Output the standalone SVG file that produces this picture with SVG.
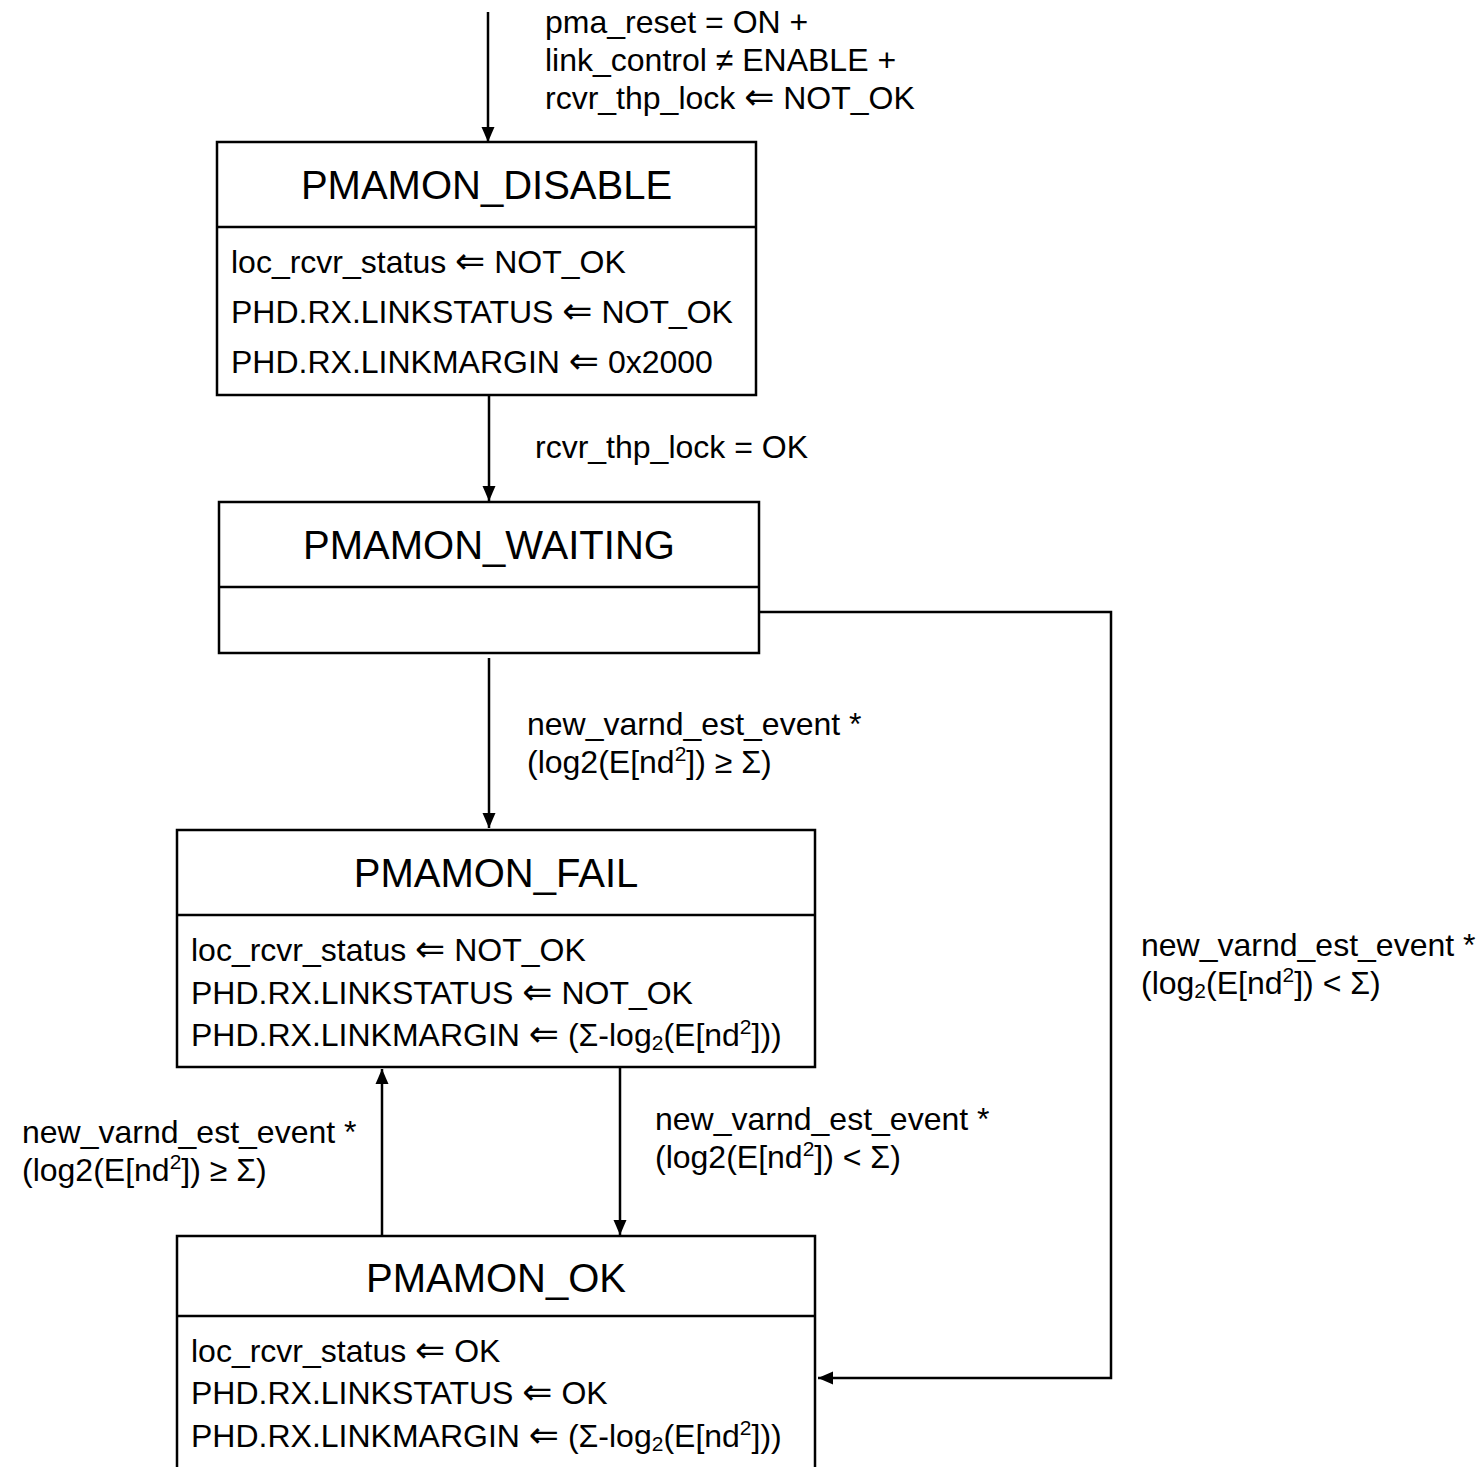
<svg xmlns="http://www.w3.org/2000/svg" width="1482" height="1467" viewBox="0 0 1482 1467">
<style>
text{font-family:"Liberation Sans",Arial,"DejaVu Sans",sans-serif;fill:#000}
.title{font-size:40px;text-anchor:middle}
.body{font-size:32px}
.lbl{font-size:32px}
.box{fill:#fff;stroke:#000;stroke-width:2.5}
.div{stroke:#000;stroke-width:2.5}
.conn{fill:none;stroke:#000;stroke-width:2.5}
.sm{font-size:21px}
.a{font-family:"DejaVu Sans",sans-serif;font-size:36px}
</style>
<defs>
<marker id="arr" markerUnits="userSpaceOnUse" markerWidth="16" markerHeight="16" refX="15" refY="8" orient="auto">
<path d="M0,1.5 L15,8 L0,14.5 z" fill="#000"/>
</marker>
</defs>
<rect width="1482" height="1467" fill="#fff"/>

<g id="connectors">
<line class="conn" x1="488" y1="12" x2="488" y2="142" marker-end="url(#arr)"/>
<line class="conn" x1="489" y1="396" x2="489" y2="501" marker-end="url(#arr)"/>
<line class="conn" x1="489" y1="658" x2="489" y2="828" marker-end="url(#arr)"/>
<line class="conn" x1="620" y1="1068" x2="620" y2="1235" marker-end="url(#arr)"/>
<line class="conn" x1="382" y1="1236" x2="382" y2="1069" marker-end="url(#arr)"/>
<polyline class="conn" points="759,612 1111,612 1111,1378 818,1378" marker-end="url(#arr)"/>
<text class="lbl"><tspan x="545" y="33">pma_reset = ON +</tspan><tspan x="545" y="71">link_control ≠ ENABLE +</tspan><tspan x="545" y="109">rcvr_thp_lock </tspan><tspan class="a">⇐</tspan><tspan> NOT_OK</tspan></text>
<text class="lbl" x="535" y="458">rcvr_thp_lock = OK</text>
<text class="lbl"><tspan x="527" y="735">new_varnd_est_event *</tspan><tspan x="527" y="773">(log2(E[nd</tspan><tspan class="sm" dy="-12">2</tspan><tspan dy="12">]) ≥ Σ)</tspan></text>
<text class="lbl"><tspan x="1141" y="956">new_varnd_est_event *</tspan><tspan x="1141" y="994">(log</tspan><tspan class="sm" dy="4">2</tspan><tspan dy="-4">(E[nd</tspan><tspan class="sm" dy="-12">2</tspan><tspan dy="12">]) &lt; Σ)</tspan></text>
<text class="lbl"><tspan x="655" y="1130">new_varnd_est_event *</tspan><tspan x="655" y="1168">(log2(E[nd</tspan><tspan class="sm" dy="-12">2</tspan><tspan dy="12">]) &lt; Σ)</tspan></text>
<text class="lbl"><tspan x="22" y="1143">new_varnd_est_event *</tspan><tspan x="22" y="1181">(log2(E[nd</tspan><tspan class="sm" dy="-12">2</tspan><tspan dy="12">]) ≥ Σ)</tspan></text>
</g>

<g id="PMAMON_DISABLE">
<rect class="box" x="217" y="142" width="539" height="253"/>
<line class="div" x1="217" y1="227" x2="756" y2="227"/>
<text class="title" x="486.5" y="199">PMAMON_DISABLE</text>
<text class="body"><tspan x="231" y="273">loc_rcvr_status </tspan><tspan class="a">⇐</tspan><tspan> NOT_OK</tspan><tspan x="231" y="323">PHD.RX.LINKSTATUS </tspan><tspan class="a">⇐</tspan><tspan> NOT_OK</tspan><tspan x="231" y="373">PHD.RX.LINKMARGIN </tspan><tspan class="a">⇐</tspan><tspan> 0x2000</tspan></text>
</g>

<g id="PMAMON_WAITING">
<rect class="box" x="219" y="502" width="540" height="151"/>
<line class="div" x1="219" y1="587" x2="759" y2="587"/>
<text class="title" x="489" y="559">PMAMON_WAITING</text>
</g>

<g id="PMAMON_FAIL">
<rect class="box" x="177" y="830" width="638" height="237"/>
<line class="div" x1="177" y1="915" x2="815" y2="915"/>
<text class="title" x="496" y="887">PMAMON_FAIL</text>
<text class="body"><tspan x="191" y="961">loc_rcvr_status </tspan><tspan class="a">⇐</tspan><tspan> NOT_OK</tspan><tspan x="191" y="1004">PHD.RX.LINKSTATUS </tspan><tspan class="a">⇐</tspan><tspan> NOT_OK</tspan><tspan x="191" y="1046">PHD.RX.LINKMARGIN </tspan><tspan class="a">⇐</tspan><tspan> (Σ-log</tspan><tspan class="sm" dy="4">2</tspan><tspan dy="-4">(E[nd</tspan><tspan class="sm" dy="-12">2</tspan><tspan dy="12">]))</tspan></text>
</g>

<g id="PMAMON_OK">
<rect class="box" x="177" y="1236" width="638" height="260"/>
<line class="div" x1="177" y1="1316" x2="815" y2="1316"/>
<text class="title" x="496" y="1292">PMAMON_OK</text>
<text class="body"><tspan x="191" y="1362">loc_rcvr_status </tspan><tspan class="a">⇐</tspan><tspan> OK</tspan><tspan x="191" y="1404">PHD.RX.LINKSTATUS </tspan><tspan class="a">⇐</tspan><tspan> OK</tspan><tspan x="191" y="1447">PHD.RX.LINKMARGIN </tspan><tspan class="a">⇐</tspan><tspan> (Σ-log</tspan><tspan class="sm" dy="4">2</tspan><tspan dy="-4">(E[nd</tspan><tspan class="sm" dy="-12">2</tspan><tspan dy="12">]))</tspan></text>
</g>
</svg>
